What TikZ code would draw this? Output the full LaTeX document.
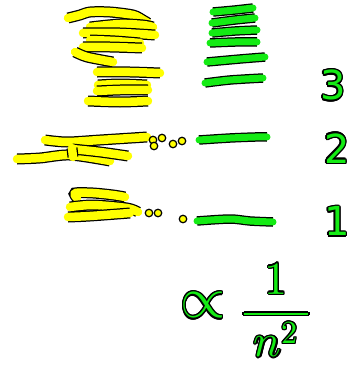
\documentclass[tikz,border=0pt]{standalone}
\usepackage{fontspec}
\usepackage{unicode-math}
\usepackage{contour}
\contourlength{1.3pt}
\usetikzlibrary{positioning}
\newfontfamily\handfont{DejaVu Sans}
\definecolor{hlyellow}{RGB}{255,255,0}
\definecolor{hlgreen}{RGB}{20,235,20}

\tikzset{
  ystroke/.style={draw=hlyellow, line width=8.5pt, line cap=round, line join=round,
                  preaction={draw=black, line width=11pt}},
  gstroke/.style={draw=hlgreen, line width=7pt, line cap=round, line join=round,
                  preaction={draw=black, line width=9.5pt}},
  ydot/.style={circle, fill=hlyellow, draw=black, line width=1.2pt, inner sep=0pt, minimum size=7.5pt},
  levelnum/.style={font=\handfont\fontsize{40}{40}\selectfont, text=hlgreen}
}

\begin{document}
\begin{tikzpicture}[x=1pt, y=-1pt]
  \useasboundingbox (0,0) rectangle (364,367);

  % many close levels
  \draw[ystroke] plot[smooth] coordinates {(68,18) (80,15) (90,12) (110,12) (133,15) (143,20) (148,23)};
  \draw[ystroke] plot[smooth] coordinates {(90,27) (120,24) (143,25) (153,27)};
  \draw[ystroke] plot[smooth] coordinates {(83,33) (120,33) (155,35)};
  \draw[ystroke] plot[smooth] coordinates {(90,40) (115,41) (140,43)};
  \draw[ystroke] plot[smooth] coordinates {(83,47) (110,47) (142,48)};
  \draw[ystroke] plot[smooth] coordinates {(75,52) (87,57) (113,62)};
  \draw[ystroke] plot[smooth] coordinates {(97,72) (130,72) (160,73)};
  \draw[ystroke] plot[smooth] coordinates {(98,85) (120,84) (147,85)};
  \draw[ystroke] plot[smooth] coordinates {(97,91) (120,90) (148,90)};
  \draw[ystroke] plot[smooth] coordinates {(88,101) (120,102) (148,101)};

  \draw[gstroke] plot[smooth] coordinates {(213,12) (235,10) (253,8)};
  \draw[gstroke] plot[smooth] coordinates {(212,23) (235,20) (255,18)};
  \draw[gstroke] plot[smooth] coordinates {(212,33) (235,31) (257,30)};
  \draw[gstroke] plot[smooth] coordinates {(210,43) (235,42) (257,42)};
  \draw[gstroke] plot[smooth] coordinates {(207,62) (240,59) (265,57)};
  \draw[gstroke] plot[smooth] coordinates {(205,83) (230,80) (263,78)};
  \node[levelnum] (n3) at (333,86) {\contour{black}{3}};

  % level 2
  \draw[ystroke] plot[smooth] coordinates {(45,140) (67,142) (100,140) (147,137)};
  \draw[ystroke] plot[smooth] coordinates {(17,159) (40,158) (70,155) (110,161)};
  \draw[ystroke] plot[smooth] coordinates {(72,149) (100,152) (128,156)};
  \draw[ystroke] (72,148) -- (73,157);
  \node[ydot] (d21) at (153,140) {};
  \node[ydot] (d22) at (162,138) {};
  \node[ydot] (d23) at (154,146) {};
  \node[ydot] (d24) at (173,144) {};
  \node[ydot] (d25) at (182,141) {};
  \draw[gstroke] plot[smooth] coordinates {(199,140) (230,138) (255,137) (267,137)};
  \node[levelnum] (n2) at (337,149) {\contour{black}{2}};

  % level 1
  \draw[ystroke] plot[smooth] coordinates {(77,198) (75,193) (93,193) (113,195) (125,197)};
  \draw[ystroke] plot[smooth] coordinates {(70,207) (93,205) (127,208) (138,212)};
  \draw[ystroke] plot[smooth] coordinates {(68,217) (90,216) (130,213)};
  \node[ydot] (d11) at (149,213) {};
  \node[ydot] (d12) at (158,213) {};
  \node[ydot] (d13) at (183,219) {};
  \draw[gstroke] plot[smooth] coordinates {(197,221) (230,219) (250,221) (273,222)};
  \node[levelnum] (n1) at (337,222) {\contour{black}{1}};

  \node[text=hlgreen, font=\fontsize{58}{58}\selectfont] (prop) at (203,306) {\contour{black}{$\propto$}};
  \node[text=hlgreen, font=\fontsize{46}{46}\selectfont] (frac) at (276,311) {\contour{black}{$\displaystyle\frac{1}{\mkern4mu n^2\mkern4mu}$}};
\end{tikzpicture}
\end{document}
